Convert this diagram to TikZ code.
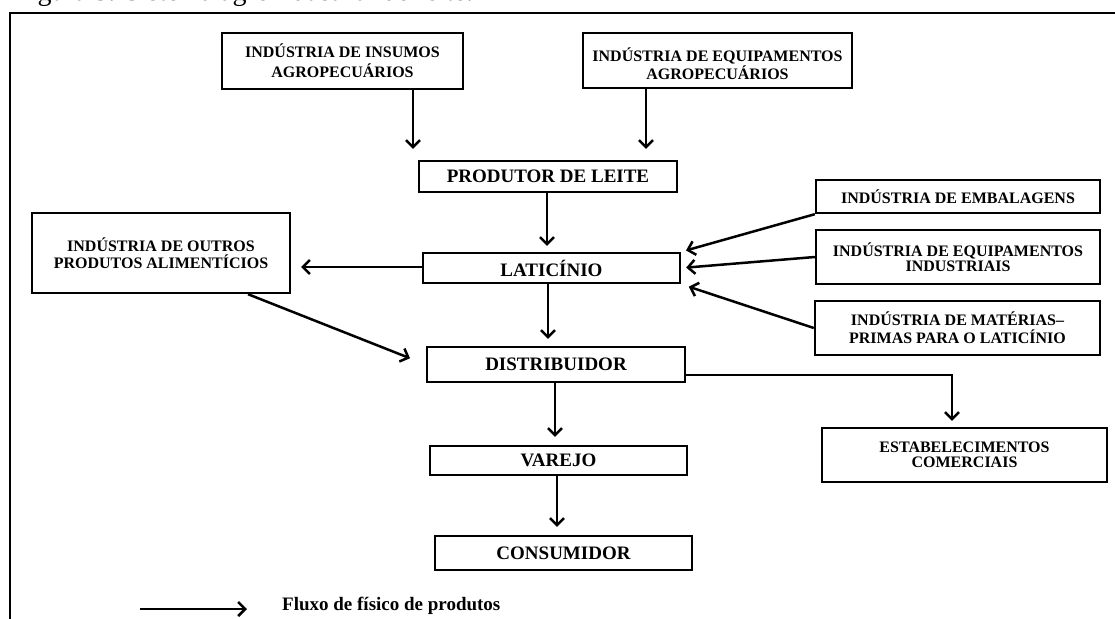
\documentclass[tikz,border=0pt]{standalone}
\usepackage{fontspec}
\setmainfont{Liberation Serif}
\usetikzlibrary{arrows.meta,calc}

\begin{document}
\begin{tikzpicture}[x=1pt,y=-1pt,
  box/.style={draw, line width=2.4pt, rectangle, align=center, inner sep=0pt,
    font=\bfseries\fontsize{16}{17}\selectfont},
  bigbox/.style={box, font=\bfseries\fontsize{19}{21}\selectfont},
  flow/.style={line width=2.5pt, -{Straight Barb[length=7pt,width=14pt]}}]

\useasboundingbox (0,0) rectangle (1115,618);

% caption line and outer frame, cut by the page edge
\begin{scope}
  \clip (0,0) rectangle (1115,618);
  \node[anchor=south west, inner sep=0pt, font=\fontsize{28}{30}\selectfont] (caption) at (14,7)
    {Figura 3. Sistema agroindustrial do leite.};
  \draw[line width=2.5pt] (10,640) -- (10,13) -- (1130,13);
\end{scope}

% boxes
\node[box, minimum width=241pt, minimum height=56pt,
  font=\bfseries\fontsize{16}{20}\selectfont] (ins) at (342.5,61)
  {INDÚSTRIA DE INSUMOS\\AGROPECUÁRIOS};
\node[box, minimum width=269pt, minimum height=55pt,
  font=\bfseries\fontsize{16}{16}\selectfont] (eqa) at (717.5,60.5)
  {\rule{0pt}{20pt}INDÚSTRIA DE EQUIPAMENTOS\\AGROPECUÁRIOS};
\node[bigbox, minimum width=258pt, minimum height=31pt] (prod) at (548,176.5)
  {PRODUTOR DE LEITE};
\node[bigbox, minimum width=257pt, minimum height=30pt] (lat) at (551.5,268)
  {LATICÍNIO};
\node[box, minimum width=258pt, minimum height=80pt] (out) at (161,253)
  {INDÚSTRIA DE OUTROS\\PRODUTOS ALIMENTÍCIOS};
\node[bigbox, minimum width=258pt, minimum height=35pt] (dist) at (556,364.5)
  {DISTRIBUIDOR};
\node[bigbox, minimum width=257pt, minimum height=29pt] (var) at (558.5,460.5)
  {VAREJO};
\node[bigbox, minimum width=257pt, minimum height=34pt] (cons) at (563.5,553)
  {CONSUMIDOR};
\node[box, minimum width=284pt, minimum height=33pt] (emb) at (958,196.5)
  {INDÚSTRIA DE EMBALAGENS};
\node[box, minimum width=284pt, minimum height=54pt,
  font=\bfseries\fontsize{16}{15.5}\selectfont] (eqi) at (958,257)
  {INDÚSTRIA DE EQUIPAMENTOS\\INDUSTRIAIS};
\node[box, minimum width=285pt, minimum height=54pt,
  font=\bfseries\fontsize{16}{18}\selectfont] (mat) at (957.5,328)
  {INDÚSTRIA DE MATÉRIAS–\\PRIMAS PARA O LATICÍNIO};
\node[box, minimum width=285pt, minimum height=54pt,
  font=\bfseries\fontsize{16}{15.5}\selectfont] (est) at (964.5,455)
  {ESTABELECIMENTOS\\COMERCIAIS};

% vertical guide positions for the connectors
\coordinate (xins) at (413,0);
\coordinate (xeqa) at (646,0);
\coordinate (xprod) at (547,0);
\coordinate (xlat) at (548,0);
\coordinate (xdist) at (555,0);
\coordinate (xvar) at (557,0);
\coordinate (xout) at (248,0);
\coordinate (ylat) at (0,267);
\coordinate (ydist) at (0,375);
\coordinate (bend) at (952,375);

% flows
\draw[flow, shorten >=11pt] (ins.south -| xins) -- (prod.north -| xins);
\draw[flow, shorten >=11pt] (eqa.south -| xeqa) -- (prod.north -| xeqa);
\draw[flow, shorten >=6pt] (prod.south -| xprod) -- (lat.north -| xprod);
\draw[flow, shorten >=10pt] (lat.west |- ylat) -- (out.east |- ylat);
\draw[flow, shorten >=17pt] (out.south -| xout) -- (dist.west);
\draw[flow, shorten >=7pt] (lat.south -| xlat) -- (dist.north -| xlat);
\draw[flow, shorten >=8pt] (dist.south -| xdist) -- (var.north -| xdist);
\draw[flow, shorten >=8pt] (var.south -| xvar) -- (cons.north -| xvar);
\draw[flow, shorten >=5pt] (emb.south west) -- (lat.north east);
\draw[flow, shorten >=5pt] (eqi.west) -- (lat.east);
\draw[flow, shorten >=8pt] (mat.west) -- (lat.south east);
\draw[flow, shorten >=6pt] (dist.east |- ydist) -- (bend) -- (est.north -| bend);

% legend
\coordinate (lgA) at (140,609);
\coordinate (lgB) at (247,609);
\draw[flow] (lgA) -- (lgB);
\node[anchor=west, inner sep=0pt, font=\bfseries\fontsize{19}{21}\selectfont] (lgtext) at (282,606)
  {Fluxo de físico de produtos};

\end{tikzpicture}
\end{document}
